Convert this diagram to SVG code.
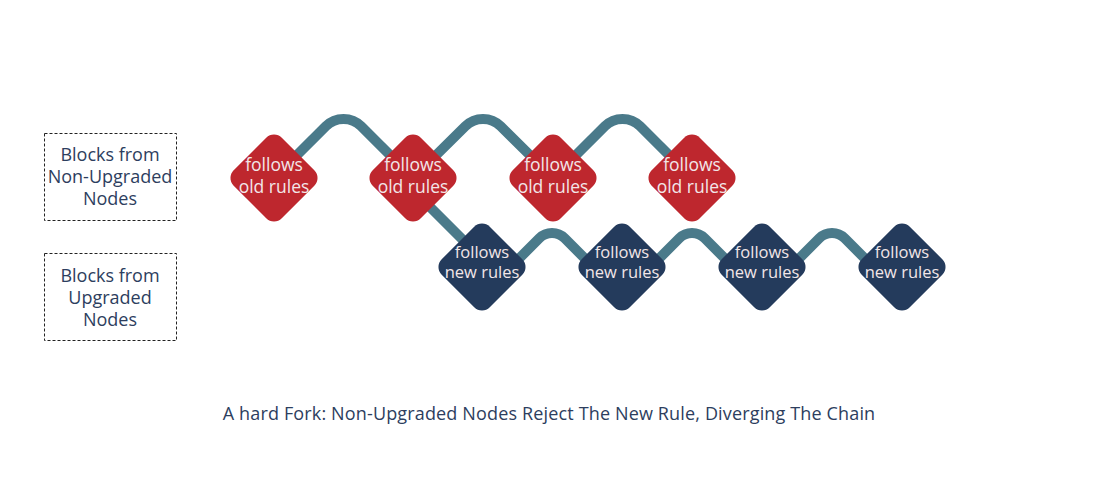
<svg xmlns="http://www.w3.org/2000/svg" width="1100" height="500" viewBox="0 0 1100 500">
<style>
.conn{fill:none;stroke:#4a7a8a;stroke-width:10;stroke-linejoin:round}
.red{fill:#be272e}
.blue{fill:#243b5c}
.lbl{font-family:"Open Sans",Lato,sans-serif;font-size:17.5px;fill:#f2e6e8;text-anchor:middle}
.lbl2{font-family:"Open Sans",Lato,sans-serif;font-size:16.5px;fill:#f2e6e8;text-anchor:middle}
.side{font-family:"Open Sans",Lato,sans-serif;font-size:18px;fill:#2d3e5e;text-anchor:middle}
.box{fill:none;stroke:#222;stroke-width:1;stroke-dasharray:3 2}
</style>
<rect width="1100" height="500" fill="#fff"/>
<g id="connectors">
<path class="conn" d="M274 178 L325.8 126.3 A25 25 0 0 1 361.2 126.3 L413 178"/>
<path class="conn" d="M413 178 L465.3 126.3 A25 25 0 0 1 500.7 126.3 L553 178"/>
<path class="conn" d="M553 178 L604.8 126.3 A25 25 0 0 1 640.2 126.3 L692 178"/>
<path class="conn" d="M413 190 L470 247"/>
<path class="conn" d="M500 277.6 L539.3 238.3 A18 18 0 0 1 564.7 238.3 L604 277.6"/>
<path class="conn" d="M640 277.6 L679.3 238.3 A18 18 0 0 1 704.7 238.3 L744 277.6"/>
<path class="conn" d="M780 277.6 L819.3 238.3 A18 18 0 0 1 844.7 238.3 L884 277.6"/>
</g>
<g id="legend-old"><rect class="box" x="44.5" y="133.5" width="132" height="87"/>
<text class="side" x="110" y="161">Blocks from</text><text class="side" x="110" y="183">Non-Upgraded</text><text class="side" x="110" y="205">Nodes</text></g>
<g id="legend-new"><rect class="box" x="44.5" y="253.5" width="132" height="87"/>
<text class="side" x="110" y="282">Blocks from</text><text class="side" x="110" y="304">Upgraded</text><text class="side" x="110" y="326">Nodes</text></g>
<g id="old1"><rect class="red" x="-34" y="-34" width="68" height="68" rx="11" transform="translate(274 178) rotate(45)"/><text class="lbl" x="274" y="171">follows</text><text class="lbl" x="274" y="193">old rules</text></g>
<g id="old2"><rect class="red" x="-34" y="-34" width="68" height="68" rx="11" transform="translate(413 178) rotate(45)"/><text class="lbl" x="413" y="171">follows</text><text class="lbl" x="413" y="193">old rules</text></g>
<g id="old3"><rect class="red" x="-34" y="-34" width="68" height="68" rx="11" transform="translate(553 178) rotate(45)"/><text class="lbl" x="553" y="171">follows</text><text class="lbl" x="553" y="193">old rules</text></g>
<g id="old4"><rect class="red" x="-34" y="-34" width="68" height="68" rx="11" transform="translate(692 178) rotate(45)"/><text class="lbl" x="692" y="171">follows</text><text class="lbl" x="692" y="193">old rules</text></g>
<g id="new1"><rect class="blue" x="-34" y="-34" width="68" height="68" rx="11" transform="translate(482 267) rotate(45)"/><text class="lbl2" x="482" y="258">follows</text><text class="lbl2" x="482" y="278">new rules</text></g>
<g id="new2"><rect class="blue" x="-34" y="-34" width="68" height="68" rx="11" transform="translate(622 267) rotate(45)"/><text class="lbl2" x="622" y="258">follows</text><text class="lbl2" x="622" y="278">new rules</text></g>
<g id="new3"><rect class="blue" x="-34" y="-34" width="68" height="68" rx="11" transform="translate(762 267) rotate(45)"/><text class="lbl2" x="762" y="258">follows</text><text class="lbl2" x="762" y="278">new rules</text></g>
<g id="new4"><rect class="blue" x="-34" y="-34" width="68" height="68" rx="11" transform="translate(902 267) rotate(45)"/><text class="lbl2" x="902" y="258">follows</text><text class="lbl2" x="902" y="278">new rules</text></g>
<g id="caption"><text class="side" x="549" y="420" letter-spacing="0.15">A hard Fork: Non-Upgraded Nodes Reject The New Rule, Diverging The Chain</text></g>
</svg>
